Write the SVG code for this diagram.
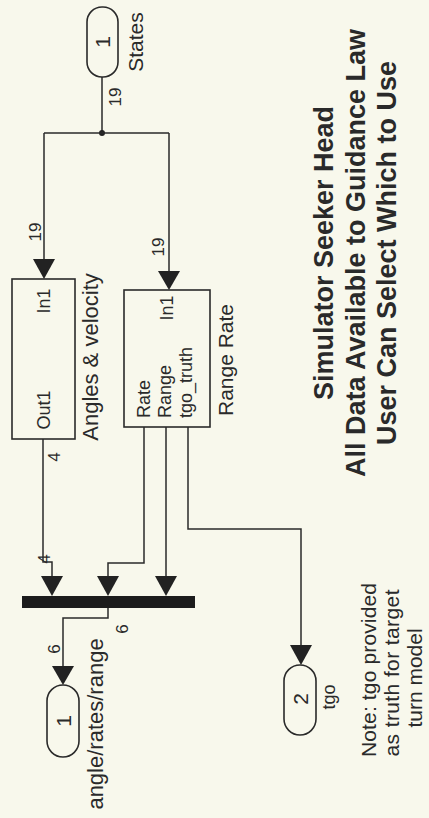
<svg xmlns="http://www.w3.org/2000/svg" width="429" height="818" viewBox="0 0 429 818">
<style>
.bg{fill:#f8f8ec}
.blk{fill:none;stroke:#2a2a2a;stroke-width:1.6}
.port{fill:#f8f8ec;stroke:#2a2a2a;stroke-width:1.6}
.ln{fill:none;stroke:#2a2a2a;stroke-width:1.5}
.ah{fill:#222}
text{font-family:"Liberation Sans",Arial,sans-serif;fill:#2a2a2a;text-anchor:middle}
.s16{font-size:17px}
.s18{font-size:18px}
.s21{font-size:21px}
.s22{font-size:22px}
.title{font-size:27px;font-weight:bold}
.st{text-anchor:start}
</style>
<rect class="bg" x="0" y="0" width="429" height="818"/>

<g id="connectors">
  <path class="ln" d="M102,77 V133"/>
  <circle cx="102" cy="133" r="3" fill="#222"/>
  <path class="ln" d="M44,133 H169"/>
  <path class="ln" d="M44,133 V260"/>
  <polygon class="ah" points="33,259 55,259 44,279"/>
  <path class="ln" d="M169,133 V272"/>
  <polygon class="ah" points="158,271 180,271 169,290"/>
  <path class="ln" d="M43,439 V562 H52 V577"/>
  <polygon class="ah" points="41,576 63,576 52,596"/>
  <path class="ln" d="M144,427 V563 H108 V577"/>
  <polygon class="ah" points="97,576 119,576 108,596"/>
  <path class="ln" d="M166,427 V577"/>
  <polygon class="ah" points="155,576 177,576 166,596"/>
  <path class="ln" d="M188,427 V529 H301 V646"/>
  <polygon class="ah" points="290,645 312,645 301,665"/>
  <path class="ln" d="M108,608 V618 H63 V667"/>
  <polygon class="ah" points="52,666 74,666 63,685"/>
  <text class="s16" transform="translate(121,97) rotate(-90)">19</text>
  <text class="s16" transform="translate(41,232) rotate(-90)">19</text>
  <text class="s16" transform="translate(164,247) rotate(-90)">19</text>
  <text class="s16" transform="translate(60,457) rotate(-90)">4</text>
  <text class="s16" transform="translate(50,559) rotate(-90)">4</text>
  <text class="s16" transform="translate(128,629) rotate(-90)">6</text>
  <text class="s16" transform="translate(60,649) rotate(-90)">6</text>
</g>

<g id="in_states">
  <rect class="port" x="87" y="7" width="31" height="70" rx="15" ry="15"/>
  <text class="s21" transform="translate(110,42) rotate(-90)">1</text>
  <text class="s21" transform="translate(143,42) rotate(-90)">States</text>
</g>

<g id="angles_velocity">
  <rect class="blk" x="12" y="279" width="63" height="160"/>
  <text class="s18" transform="translate(50,301) rotate(-90)">In1</text>
  <text class="s18" transform="translate(50,410) rotate(-90)">Out1</text>
  <text class="s22" transform="translate(98,357) rotate(-90)">Angles &amp; velocity</text>
</g>

<g id="range_rate">
  <rect class="blk" x="124" y="290" width="86" height="137"/>
  <text class="s18" transform="translate(173,308) rotate(-90)">In1</text>
  <text class="s18 st" transform="translate(150,418) rotate(-90)">Rate</text>
  <text class="s18 st" transform="translate(171,418) rotate(-90)">Range</text>
  <text class="s18 st" transform="translate(192,418) rotate(-90)">tgo_truth</text>
  <text class="s21" transform="translate(233,360) rotate(-90)">Range Rate</text>
</g>

<g id="mux">
  <rect x="22" y="596" width="173" height="12" fill="#1c1c1c"/>
</g>

<g id="out_angle">
  <rect class="port" x="47" y="685" width="32" height="72" rx="16" ry="16"/>
  <text class="s21" transform="translate(71,721) rotate(-90)">1</text>
  <text class="s22" transform="translate(103,724) rotate(-90)">angle/rates/range</text>
</g>

<g id="out_tgo">
  <rect class="port" x="284" y="665" width="32" height="70" rx="16" ry="16"/>
  <text class="s21" transform="translate(308,699) rotate(-90)">2</text>
  <text class="s18" transform="translate(335,697) rotate(-90)">tgo</text>
</g>

<g id="note">
  <text class="s21" transform="translate(376,670) rotate(-90)" textLength="174">Note: tgo provided</text>
  <text class="s21" transform="translate(399,673) rotate(-90)" textLength="167">as truth for target</text>
  <text class="s21" transform="translate(422,678) rotate(-90)">turn model</text>
</g>

<g id="title">
  <text class="title" transform="translate(333,253) rotate(-90)">Simulator Seeker Head</text>
  <text class="title" transform="translate(365,253) rotate(-90)">All Data Available to Guidance Law</text>
  <text class="title" transform="translate(396,253) rotate(-90)">User Can Select Which to Use</text>
</g>
</svg>
